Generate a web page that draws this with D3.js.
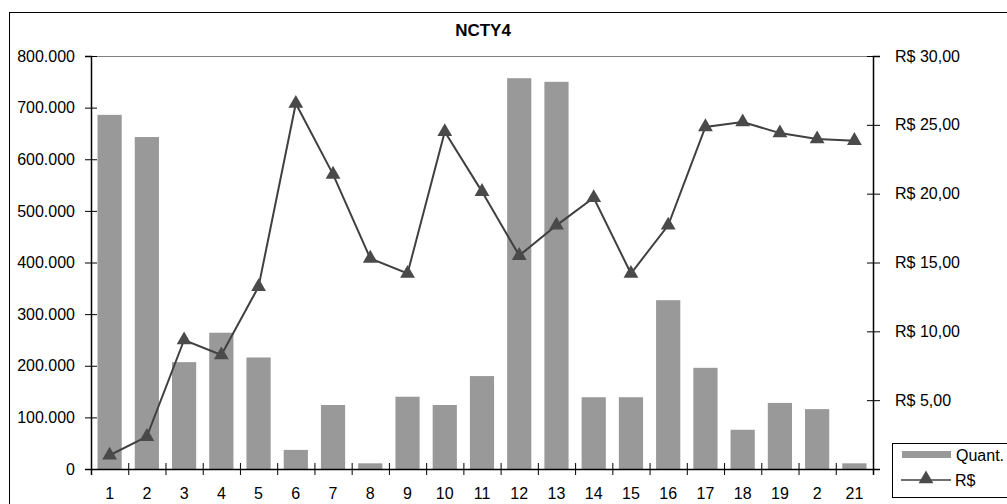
<!DOCTYPE html>
<html>
<head>
<meta charset="utf-8">
<script src="https://cdn.jsdelivr.net/npm/d3@7"></script>
<style>
  body { margin: 0; background: #fff; }
  svg { display: block; font-family: "Liberation Sans", Arial, sans-serif; }
</style>
</head>
<body>
<div id="vis1"></div>
<script>
const FRAME_WIDTH = 1007;
const FRAME_HEIGHT = 504;
const PLOT = {left: 91, right: 873, top: 56, bottom: 469};

// category labels as shown on the axis (the 20th reads "2" in the original)
const labels = ["1","2","3","4","5","6","7","8","9","10","11","12","13","14","15","16","17","18","19","2","21"];
// Quant (bars, left axis)
const quant = [686000, 643000, 207000, 264000, 216000, 37000, 124000, 11000, 140000, 124000,
               180000, 757000, 750000, 139000, 139000, 327000, 196000, 76000, 128000, 116000, 11000];
// R$ (line, right axis)
const price = [1.0, 2.35, 9.37, 8.28, 13.24, 26.55, 21.4, 15.3, 14.2, 24.5,
               20.15, 15.5, 17.7, 19.7, 14.2, 17.7, 24.85, 25.2, 24.4, 23.97, 23.85];
const leftTicks = [0, 100000, 200000, 300000, 400000, 500000, 600000, 700000, 800000];
const rightTicks = [0, 5, 10, 15, 20, 25, 30];

const BAR_COLOR = "#999999";
const LINE_COLOR = "#404040";

const ptBR = d3.formatLocale({decimal: ",", thousands: ".", grouping: [3], currency: ["R$ ", ""]});

const svg = d3.select("#vis1")
  .append("svg")
    .attr("width", FRAME_WIDTH)
    .attr("height", FRAME_HEIGHT);

// outer chart border
svg.append("rect")
  .attr("x", 9.5).attr("y", 12.5)
  .attr("width", FRAME_WIDTH + 20).attr("height", FRAME_HEIGHT + 20)
  .attr("fill", "#fff").attr("stroke", "#000").attr("stroke-width", 1);

const idx = d3.range(labels.length);

const x = d3.scaleBand()
  .domain(idx)
  .range([PLOT.left, PLOT.right])
  .paddingInner(0.35)
  .paddingOuter(0.175);

const xEdge = d3.scaleLinear().domain([0, labels.length]).range([PLOT.left, PLOT.right]);

const yL = d3.scaleLinear().domain([0, 800000]).range([PLOT.bottom, PLOT.top]);
const yR = d3.scaleLinear().domain([0, 30]).range([PLOT.bottom, PLOT.top]);

// plot area top border (grey)
svg.append("line")
  .attr("x1", PLOT.left).attr("x2", PLOT.right)
  .attr("y1", PLOT.top + 0.5).attr("y2", PLOT.top + 0.5)
  .attr("stroke", "#808080");

// title
svg.append("text")
  .attr("x", 483).attr("y", 36)
  .attr("text-anchor", "middle")
  .attr("font-weight", "bold")
  .attr("font-size", 17)
  .text("NCTY4");

// bars
svg.selectAll(".bar")
  .data(quant)
  .join("rect")
    .attr("class", "bar")
    .attr("x", (d, i) => x(i))
    .attr("width", x.bandwidth())
    .attr("y", d => yL(d))
    .attr("height", d => PLOT.bottom - yL(d))
    .attr("fill", BAR_COLOR);

// axes
function styleAxis(g) {
  g.select(".domain").attr("stroke", "#000").attr("stroke-width", 1.5);
  g.selectAll(".tick line").attr("stroke", "#000");
  g.selectAll("text").attr("font-size", 16).attr("fill", "#000")
    .attr("font-family", "Liberation Sans, Arial, sans-serif");
}

const gLeft = svg.append("g")
  .attr("transform", `translate(${PLOT.left},0)`)
  .call(d3.axisLeft(yL).tickValues(leftTicks).tickSizeOuter(0).tickSize(6).tickPadding(10)
        .tickFormat(d => ptBR.format(",")(d)))
  .call(styleAxis);
gLeft.selectAll(".tick line").attr("x1", 6);

const gRight = svg.append("g")
  .attr("transform", `translate(${PLOT.right},0)`)
  .call(d3.axisRight(yR).tickValues(rightTicks).tickSizeOuter(0).tickSize(7).tickPadding(15)
        .tickFormat(d => ptBR.format("$,.2f")(d)))
  .call(styleAxis);
gRight.selectAll(".tick line").attr("x1", -6);

const gBottomTicks = svg.append("g")
  .attr("transform", `translate(0,${PLOT.bottom})`)
  .call(d3.axisBottom(xEdge).ticks(labels.length).tickSizeOuter(0).tickSize(6).tickFormat(""))
  .call(styleAxis);
gBottomTicks.selectAll(".tick line").attr("y1", -6);

svg.append("g")
  .attr("transform", `translate(0,${PLOT.bottom})`)
  .call(d3.axisBottom(x).tickSize(0).tickPadding(19).tickFormat(i => labels[i]))
  .call(styleAxis)
  .call(g => g.select(".domain").remove());

// price line
const line = d3.line()
  .x((d, i) => x(i) + x.bandwidth() / 2)
  .y(d => yR(d));

svg.append("path")
  .datum(price)
  .attr("fill", "none")
  .attr("stroke", LINE_COLOR)
  .attr("stroke-width", 2)
  .attr("d", line);

const tri = d3.symbol().type(d3.symbolTriangle).size(95);
svg.selectAll(".marker")
  .data(price)
  .join("path")
    .attr("class", "marker")
    .attr("transform", (d, i) => `translate(${x(i) + x.bandwidth() / 2},${yR(d)})`)
    .attr("d", tri)
    .attr("fill", "#4a4a4a");

// legend
const legend = svg.append("g").attr("transform", "translate(892,443)");
legend.append("rect")
  .attr("x", 0.5).attr("y", 0.5).attr("width", 140).attr("height", 54)
  .attr("fill", "#fff").attr("stroke", "#000");
legend.append("rect")
  .attr("x", 10).attr("y", 8).attr("width", 49).attr("height", 7)
  .attr("fill", BAR_COLOR);
legend.append("text")
  .attr("x", 64).attr("y", 18).attr("font-size", 16)
  .text("Quant.");
legend.append("line")
  .attr("x1", 9).attr("x2", 59).attr("y1", 37).attr("y2", 37)
  .attr("stroke", LINE_COLOR).attr("stroke-width", 1.5);
legend.append("path")
  .attr("transform", "translate(34,36)")
  .attr("d", tri)
  .attr("fill", "#4a4a4a");
legend.append("text")
  .attr("x", 63).attr("y", 43).attr("font-size", 16)
  .text("R$");
</script>
</body>
</html>
